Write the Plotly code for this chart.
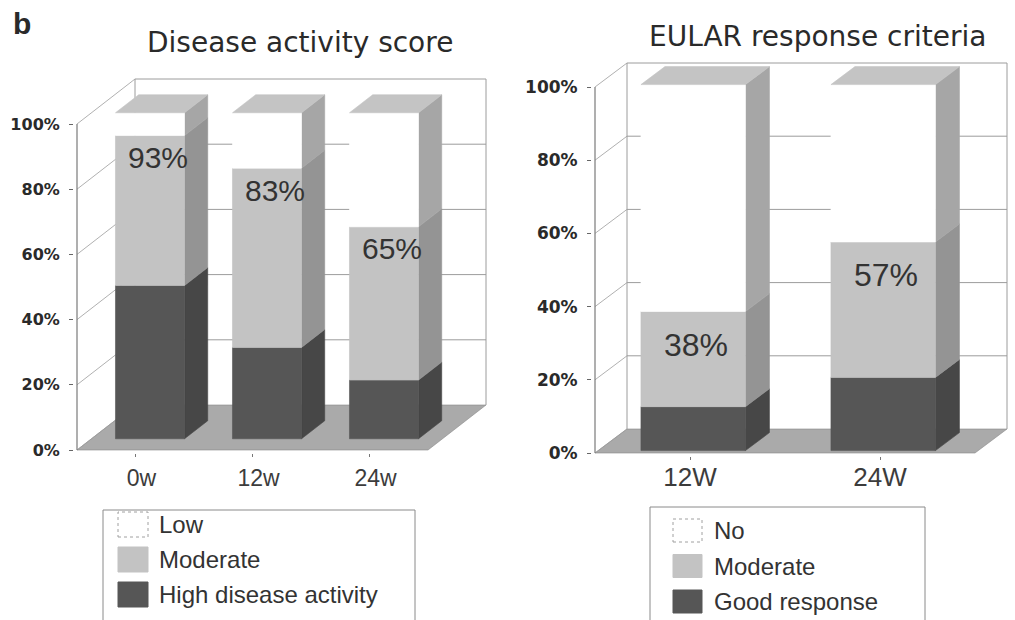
import plotly.graph_objects as go

W, H = 1015, 620

# ---- data -------------------------------------------------------------
das_weeks = ["0w", "12w", "24w"]
das_high = [47, 28, 18]          # High disease activity, %
das_moderate = [46, 55, 47]      # Moderate, %
das_series = ["Low", "Moderate", "High disease activity"]

eular_weeks = ["12W", "24W"]
eular_good = [12, 20]            # Good response, %
eular_moderate = [26, 37]        # Moderate response, %
eular_series = ["No", "Moderate", "Good response"]

pct_ticks = [0, 20, 40, 60, 80, 100]
pct_labels = [f"{v}%" for v in pct_ticks]

# ---- styling ----------------------------------------------------------
SHADE_TOP = dict(front="#ffffff", side="#a6a6a6", top="#c4c4c4")
SHADE_MID = dict(front="#c3c3c3", side="#949494")
SHADE_BASE = dict(front="#565656", side="#474747")
FLOOR = "#aaaaaa"
WALL_LINE = "#9c9c9c"
AXIS_LINE = "#7a7a7a"
TEXT = "#2a2a2a"

panels = [
    dict(xa="x", ya="y", cats=das_weeks, base=das_high, mid=das_moderate,
         series=das_series, title="Disease activity score", title_px=(300, 42),
         x0=77, cat_px=117, y0=450, pct_px=3.26, off=(58, 45),
         bar_w=0.59, depth=(0.25, 0.65),
         ytick_size=16, xtick_size=23, xtick_shift=6, xtick_standoff=1,
         label_size=30, label_drop=22, label_dx=8,
         legend_box=(103, 510, 415), swatch=(118, 512, 30, 25, 35), text_x=157),
    dict(xa="x2", ya="y2", cats=eular_weeks, base=eular_good, mid=eular_moderate,
         series=eular_series, title="EULAR response criteria", title_px=(817, 36),
         x0=595, cat_px=190, y0=453, pct_px=3.66, off=(32, 24),
         bar_w=0.55, depth=(0.1, 0.85),
         ytick_size=17, xtick_size=26, xtick_shift=0, xtick_standoff=-5,
         label_size=32, label_drop=33, label_dx=3,
         legend_box=(650, 507, 925), swatch=(673, 519, 29, 23, 35.5), text_x=712),
]

fig = go.Figure()
annotations = []
shapes = []
layout_axes = {}


def add_poly(p, pts, fill, line_color=None, name=None):
    xs = [q[0] for q in pts] + [pts[0][0]]
    ys = [q[1] for q in pts] + [pts[0][1]]
    fig.add_trace(go.Scatter(
        x=xs, y=ys, mode="lines", fill="toself", fillcolor=fill,
        line=dict(color=line_color or fill, width=0.6),
        xaxis=p["xa"], yaxis=p["ya"], hoverinfo="skip", showlegend=False,
        name=name))


def add_line(p, pts, color, width=1.0):
    fig.add_trace(go.Scatter(
        x=[q[0] for q in pts], y=[q[1] for q in pts], mode="lines",
        line=dict(color=color, width=width),
        xaxis=p["xa"], yaxis=p["ya"], hoverinfo="skip", showlegend=False))


for k, p in enumerate(panels):
    n = len(p["cats"])
    dxc = p["off"][0] / p["cat_px"]
    dyp = p["off"][1] / p["pct_px"]

    def proj(x, v, d, dxc=dxc, dyp=dyp):
        # oblique projection: depth d in [0, 1] shifts up and to the right
        return (x + d * dxc, v + d * dyp)

    # axis ranges / domains from the pixel geometry of each panel
    pad_l, pad_r, pad_b, pad_t = 3, 3, 3, 3
    xr = [-0.5 - pad_l / p["cat_px"], n - 0.5 + dxc + pad_r / p["cat_px"]]
    yr = [-pad_b / p["pct_px"], 100 + dyp + pad_t / p["pct_px"]]
    px_l = p["x0"] - pad_l
    px_r = p["x0"] + n * p["cat_px"] + p["off"][0] + pad_r
    py_b = p["y0"] + pad_b
    py_t = p["y0"] - 100 * p["pct_px"] - p["off"][1] - pad_t

    suffix = "" if k == 0 else str(k + 1)
    layout_axes["xaxis" + suffix] = dict(
        domain=[px_l / W, px_r / W], range=xr, anchor=p["ya"],
        showgrid=False, zeroline=False, showline=False, automargin=False,
        tickmode="array", tickvals=list(range(n)), ticktext=p["cats"],
        ticks="outside", ticklen=3, tickcolor="#777777",
        ticklabelshift=p["xtick_shift"], ticklabelstandoff=p["xtick_standoff"],
        tickfont=dict(family="Liberation Sans, Arial", size=p["xtick_size"], color="#3c3c3c"),
        fixedrange=True)
    layout_axes["yaxis" + suffix] = dict(
        domain=[1 - py_b / H, 1 - py_t / H], range=yr, anchor=p["xa"],
        showgrid=False, zeroline=False, showline=False, automargin=False,
        tickmode="array", tickvals=pct_ticks, ticktext=pct_labels,
        ticks="outside", ticklen=4, tickcolor="#666666", ticklabelstandoff=6,
        tickfont=dict(family="DejaVu Sans", size=p["ytick_size"], color=TEXT, weight="bold"),
        fixedrange=True)

    # floor
    add_poly(p, [proj(-0.5, 0, 0), proj(n - 0.5, 0, 0), proj(n - 0.5, 0, 1), proj(-0.5, 0, 1)],
             FLOOR, line_color="#888888", name="floor")

    # back wall frame and gridlines
    add_line(p, [proj(-0.5, 0, 1), proj(-0.5, 100, 1), proj(n - 0.5, 100, 1), proj(n - 0.5, 0, 1)],
             WALL_LINE)
    for v in pct_ticks[1:-1]:
        add_line(p, [proj(-0.5, v, 1), proj(n - 0.5, v, 1)], WALL_LINE)
    # side wall tick guides
    for v in pct_ticks:
        add_line(p, [proj(-0.5, v, 0), proj(-0.5, v, 1)], WALL_LINE, 0.8)
    # front value axis
    add_line(p, [proj(-0.5, 0, 0), proj(-0.5, 100, 0)], AXIS_LINE, 1.2)

    # stacked 3D bars
    d0, d1 = p["depth"]
    hw = p["bar_w"] / 2
    for i in range(n):
        base = p["base"][i]
        mid = p["mid"][i]
        segs = [(0, base, SHADE_BASE, p["series"][2]),
                (base, base + mid, SHADE_MID, p["series"][1]),
                (base + mid, 100, SHADE_TOP, p["series"][0])]
        for v0, v1, shade, nm in segs:
            label = f"{nm} {p['cats'][i]}"
            add_poly(p, [proj(i + hw, v0, d0), proj(i + hw, v0, d1),
                         proj(i + hw, v1, d1), proj(i + hw, v1, d0)],
                     shade["side"], name=label + " side")
            add_poly(p, [proj(i - hw, v0, d0), proj(i + hw, v0, d0),
                         proj(i + hw, v1, d0), proj(i - hw, v1, d0)],
                     shade["front"], name=label)
            if "top" in shade:
                add_poly(p, [proj(i - hw, v1, d0), proj(i + hw, v1, d0),
                             proj(i + hw, v1, d1), proj(i - hw, v1, d1)],
                         shade["top"], name=label + " top")

        # cumulative share label on the middle segment
        total = base + mid
        lx, ly = proj(i, total, d0)
        annotations.append(dict(
            x=lx + p["label_dx"] / p["cat_px"], y=ly, xref=p["xa"], yref=p["ya"],
            yshift=-p["label_drop"], text=f"{total}%", showarrow=False,
            xanchor="center", yanchor="middle",
            font=dict(family="Liberation Sans, Arial", size=p["label_size"], color="#333333")))

    # title
    annotations.append(dict(
        x=p["title_px"][0] / W, y=1 - p["title_px"][1] / H, xref="paper", yref="paper",
        text=p["title"], showarrow=False, xanchor="center", yanchor="middle",
        font=dict(family="DejaVu Sans", size=28, color=TEXT)))

    # legend box with swatches
    bx0, by0, bx1 = p["legend_box"]
    shapes.append(dict(type="rect", xref="paper", yref="paper",
                       x0=bx0 / W, x1=bx1 / W, y0=-0.02, y1=1 - by0 / H,
                       line=dict(color="#8a8a8a", width=1), fillcolor="rgba(0,0,0,0)"))
    sx, sy, sw, sh, step = p["swatch"]
    legend_fills = [SHADE_TOP["front"], SHADE_MID["front"], SHADE_BASE["front"]]
    for j, (nm, fc) in enumerate(zip(p["series"], legend_fills)):
        top = sy + j * step
        shapes.append(dict(type="rect", xref="paper", yref="paper",
                           x0=sx / W, x1=(sx + sw) / W,
                           y0=1 - (top + sh) / H, y1=1 - top / H,
                           fillcolor=fc,
                           line=dict(color="#a0a0a0" if j == 0 else fc, width=1,
                                     dash="dot" if j == 0 else "solid")))
        annotations.append(dict(
            x=p["text_x"] / W, y=1 - (top + sh / 2) / H, xref="paper", yref="paper",
            text=nm, showarrow=False, xanchor="left", yanchor="middle",
            font=dict(family="Liberation Sans, Arial", size=24, color="#333333")))

# panel letter
annotations.append(dict(
    x=11 / W, y=1 - 23 / H, xref="paper", yref="paper", text="<b>b</b>",
    showarrow=False, xanchor="left", yanchor="middle",
    font=dict(family="Liberation Sans, Arial", size=30, color=TEXT)))

fig.update_layout(
    width=W, height=H, margin=dict(l=0, r=0, t=0, b=0, pad=0, autoexpand=False),
    paper_bgcolor="white", plot_bgcolor="rgba(0,0,0,0)",
    showlegend=False, annotations=annotations, shapes=shapes,
    **layout_axes)

fig.write_html("out.html")
